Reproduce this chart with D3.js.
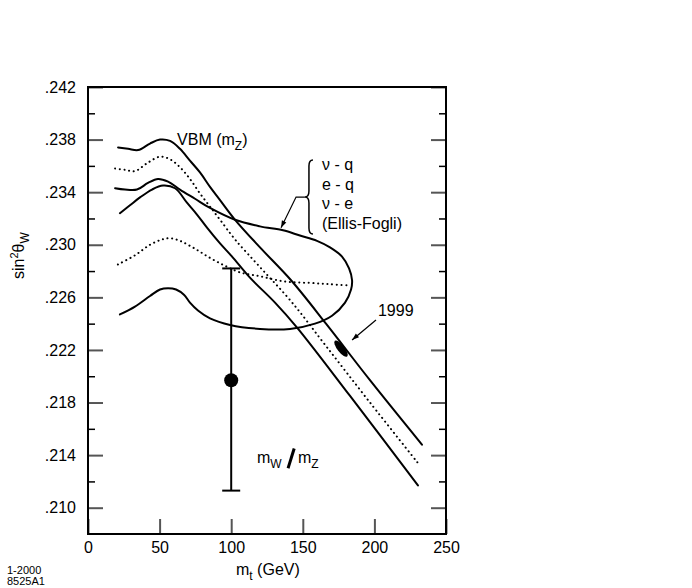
<!doctype html>
<html lang="en">
<head>
<meta charset="utf-8" />
<title>sin2thetaW versus top mass</title>
<script src="https://cdn.jsdelivr.net/npm/d3@7/dist/d3.min.js"></script>
<style>
  body { margin: 0; background: #fff; }
  text { font-family: "Liberation Sans", Arial, Helvetica, sans-serif; fill: #000; }
</style>
</head>
<body>
<script>
// curves, x = m_t (GeV), y = sin^2 theta_W
var vbmHiX  = [21, 28, 35, 43.3, 50.3, 57.3, 64.2, 71.2, 78.2, 85.2, 92.2, 102.7, 120.1, 141.8, 166.2, 196.9, 233.2];
var vbmHiY  = [.2374, .2373, .2372, .2377, .2380, .2379, .2373, .2364, .2355, .2344, .2334, .2319, .2298, .2273, .2240, .2197, .2148];
var vbmMidX = [18.9, 25.8, 32.8, 41.2, 50.3, 57.3, 64.2, 71.2, 78.2, 85.2, 92.2, 102.7, 120.1, 141.8, 166.2, 196.9, 230.4];
var vbmMidY = [.2358, .2357, .2356, .2362, .2367, .2365, .2359, .2350, .2339, .2329, .2319, .2304, .2283, .2257, .2223, .2180, .2134];
var vbmLoX  = [22.3, 29.3, 36.3, 44.7, 52.4, 60.8, 69.1, 76.1, 83.1, 92.2, 100.6, 113.1, 130.6, 146.0, 183.0, 230.4];
var vbmLoY  = [.2324, .2330, .2336, .2342, .2345, .2343, .2332, .2323, .2313, .2301, .2291, .2275, .2256, .2237, .2185, .2117];

// Ellis-Fogli contour (open on the left) and its central dotted line
var efX = [18.9, 25.8, 34.2, 41.9, 48.9, 55.9, 64.2, 74.7, 85.2, 102.7, 120.1, 136.2, 148.0, 159.9, 169.0, 177.4, 182.3, 184.4,
           183.7, 179.5, 170.4, 158.5, 141.1, 120.1, 99.2, 85.2, 76.8, 71.2, 67.0, 61.5, 55.9, 50.3, 43.3, 32.8, 22.3];
var efY = [.2343, .2342, .2342, .2347, .2350, .2348, .2342, .2335, .2328, .2319, .2314, .2311, .2307, .2303, .2298, .2291, .2282, .2273,
           .2266, .2256, .2246, .2240, .2236, .2236, .2239, .2244, .2250, .2256, .2262, .2266, .2267, .2266, .2261, .2253, .2247];
var efMidX = [20.9, 32.8, 43.3, 51.7, 57.3, 64.2, 74.7, 85.2, 95.7, 106.1, 120.1, 137.6, 155.0, 169.0, 183.0];
var efMidY = [.2285, .2292, .2300, .2304, .2305, .2303, .2297, .2290, .2284, .2279, .2276, .2272, .2271, .2270, .2269];

// mW/mZ point with error bar, 1999 fit
var ptX = 100, ptY = .2197, ptLo = .2113, ptHi = .2282;
var fitX = 176.7, fitY = .2221;

var xTicks = [0, 50, 100, 150, 200, 250];
var yMajor = [.210, .214, .218, .222, .226, .230, .234, .238, .242];
var yMinor = [.212, .216, .220, .224, .228, .232, .236, .240];

var w = 692, h = 588;
var x = d3.scaleLinear().domain([0, 250]).range([88, 446]);
var y = d3.scaleLinear().domain([.208, .242]).range([534, 87]);

var svg = d3.select("body").append("svg")
	.attr("width", w)
	.attr("height", h);

svg.append("defs").append("marker")
	.attr("id", "ah")
	.attr("viewBox", "0 0 10 10")
	.attr("refX", 10).attr("refY", 5)
	.attr("markerUnits", "userSpaceOnUse")
	.attr("markerWidth", 10).attr("markerHeight", 7)
	.attr("orient", "auto")
	.append("path").attr("d", "M0,1.5L10,5L0,8.5z").attr("fill", "#000");

var fmt = function(d) { return d3.format(".3f")(d).replace(/^0/, ""); };

// axes, ticks point inward
function styleAxis(g, major) {
	g.select(".domain").remove();
	g.selectAll(".tick line").attr("stroke", major ? "#555" : "#000").attr("stroke-width", major ? 2 : 1.5);
	g.selectAll(".tick text").attr("font-size", "16px").attr("font-family", "Liberation Sans, Arial, sans-serif");
}
svg.append("g").attr("transform", "translate(88,0)")
	.call(d3.axisLeft(y).tickValues(yMajor).tickSize(-15).tickPadding(12).tickFormat(fmt))
	.call(styleAxis, true);
svg.append("g").attr("transform", "translate(88,0)")
	.call(d3.axisLeft(y).tickValues(yMinor).tickSize(-7).tickFormat(""))
	.call(styleAxis, false);
svg.append("g").attr("transform", "translate(446,0)")
	.call(d3.axisRight(y).tickValues(yMajor).tickSize(-15).tickFormat(""))
	.call(styleAxis, true);
svg.append("g").attr("transform", "translate(446,0)")
	.call(d3.axisRight(y).tickValues(yMinor).tickSize(-7).tickFormat(""))
	.call(styleAxis, false);
svg.append("g").attr("transform", "translate(0,534)")
	.call(d3.axisBottom(x).tickValues(xTicks).tickSize(-15).tickPadding(8))
	.call(styleAxis, true);

svg.append("rect")
	.attr("x", x(0)).attr("y", y(.242))
	.attr("width", x(250) - x(0)).attr("height", y(.208) - y(.242))
	.attr("fill", "none").attr("stroke", "#000").attr("stroke-width", 2);

// curves
var line = d3.line()
	.x(function(d) { return x(d[0]); })
	.y(function(d) { return y(d[1]); })
	.curve(d3.curveCatmullRom.alpha(0.5));

var curves = [
	{xs: vbmHiX, ys: vbmHiY, dotted: false},
	{xs: vbmMidX, ys: vbmMidY, dotted: true},
	{xs: vbmLoX, ys: vbmLoY, dotted: false},
	{xs: efX, ys: efY, dotted: false},
	{xs: efMidX, ys: efMidY, dotted: true}
];
curves.forEach(function(c) {
	svg.append("path")
		.datum(d3.zip(c.xs, c.ys))
		.attr("d", line)
		.attr("fill", "none")
		.attr("stroke", "#000")
		.attr("stroke-width", 2)
		.attr("stroke-linecap", "round")
		.attr("stroke-dasharray", c.dotted ? "0.1,4.6" : null);
});

// error bar + point
svg.append("line")
	.attr("x1", x(ptX)).attr("x2", x(ptX))
	.attr("y1", y(ptLo)).attr("y2", y(ptHi))
	.attr("stroke", "#000").attr("stroke-width", 2);
[ptLo, ptHi].forEach(function(v) {
	svg.append("line")
		.attr("x1", x(ptX) - 9).attr("x2", x(ptX) + 9)
		.attr("y1", y(v)).attr("y2", y(v))
		.attr("stroke", "#000").attr("stroke-width", 2);
});
svg.append("circle")
	.attr("cx", x(ptX)).attr("cy", y(ptY)).attr("r", 7).attr("fill", "#000");

// 1999 fit ellipse
svg.append("ellipse")
	.attr("transform", "translate(" + x(fitX) + "," + y(fitY) + ") rotate(52)")
	.attr("rx", 10).attr("ry", 3.6).attr("fill", "#000");

// labels
var vbm = svg.append("text").attr("x", x(62.2)).attr("y", y(.2376)).attr("font-size", "16px");
vbm.append("tspan").text("VBM (m");
vbm.append("tspan").attr("dy", 5).attr("font-size", "12px").text("Z");
vbm.append("tspan").attr("dy", -5).text(")");

var efLines = ["\u03bd - q", "e - q", "\u03bd - e", "(Ellis-Fogli)"];
svg.append("g").selectAll("text")
	.data(efLines)
	.enter()
	.append("text")
	.attr("x", x(163.4))
	.attr("y", function(d, i) { return y(.2357) + i * 19.8; })
	.attr("font-size", "16px")
	.text(function(d) { return d; });

// brace, tip at (151.5, .23363)
var bx = x(151.5), by = y(.23363);
svg.append("path")
	.attr("d", "M" + (bx + 8) + "," + (by - 37) + " q-4,0 -4,6 l0,25 q0,6 -4,6 q4,0 4,6 l0,25 q0,6 4,6")
	.attr("fill", "none").attr("stroke", "#000").attr("stroke-width", 1.5);
svg.append("path")
	.attr("d", "M" + x(151.5) + "," + y(.23363) + "L" + x(145.3) + "," + y(.23363) + "L" + x(134.8) + "," + y(.2313))
	.attr("fill", "none").attr("stroke", "#000").attr("stroke-width", 1.2)
	.attr("marker-end", "url(#ah)");

svg.append("text").attr("x", x(202.5)).attr("y", y(.2246)).attr("font-size", "16px").text("1999");
svg.append("line")
	.attr("x1", x(201.1)).attr("y1", y(.22428))
	.attr("x2", x(184.4)).attr("y2", y(.22276))
	.attr("stroke", "#000").attr("stroke-width", 1.2)
	.attr("marker-end", "url(#ah)");

// mW / mZ
var mw = svg.append("text").attr("x", x(118)).attr("y", y(.2134)).attr("font-size", "16px");
mw.append("tspan").text("m");
mw.append("tspan").attr("dy", 5).attr("font-size", "12px").text("W");
svg.append("line")
	.attr("x1", x(139.7)).attr("y1", y(.2130))
	.attr("x2", x(144.0)).attr("y2", y(.2145))
	.attr("stroke", "#000").attr("stroke-width", 3);
var mz = svg.append("text").attr("x", x(146.6)).attr("y", y(.2134)).attr("font-size", "16px");
mz.append("tspan").text("m");
mz.append("tspan").attr("dy", 5).attr("font-size", "12px").text("Z");

// axis titles
var xt = svg.append("text").attr("x", 236).attr("y", 575).attr("font-size", "16px");
xt.append("tspan").text("m");
xt.append("tspan").attr("dy", 5).attr("font-size", "12px").text("t");
xt.append("tspan").attr("dy", -5).text(" (GeV)");

var yt = svg.append("text").attr("transform", "translate(24,279) rotate(-90)").attr("font-size", "16px");
yt.append("tspan").text("sin");
yt.append("tspan").attr("dy", -6).attr("font-size", "11px").text("2");
yt.append("tspan").attr("dy", 6).text("\u03b8");
yt.append("tspan").attr("dy", 5).attr("font-size", "12px").text("W");

svg.append("text").attr("x", 7).attr("y", 574).attr("font-size", "11px").text("1-2000");
svg.append("text").attr("x", 7).attr("y", 585).attr("font-size", "11px").text("8525A1");
</script>
</body>
</html>
